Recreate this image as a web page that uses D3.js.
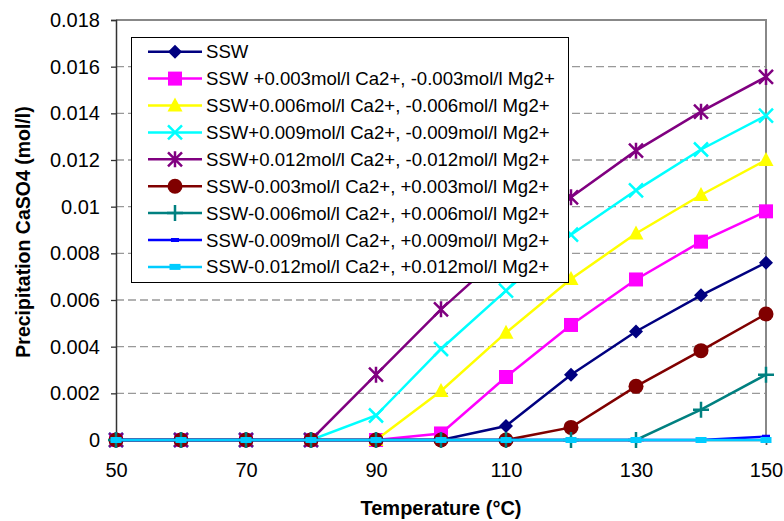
<!DOCTYPE html>
<html>
<head>
<meta charset="utf-8">
<script src="https://cdn.jsdelivr.net/npm/d3@7"></script>
<style>
  html, body { margin: 0; padding: 0; background: #fff; }
  svg { display: block; font-family: Arial, "Liberation Sans", sans-serif; }
</style>
</head>
<body>
<svg id="chart" width="784" height="521"></svg>
<script>
// ---- data ----
const temperatures = [50, 60, 70, 80, 90, 100, 110, 120, 130, 140, 150];
const seriesNames = [
  "SSW",
  "SSW +0.003mol/l Ca2+, -0.003mol/l Mg2+",
  "SSW+0.006mol/l Ca2+, -0.006mol/l Mg2+",
  "SSW+0.009mol/l Ca2+, -0.009mol/l Mg2+",
  "SSW+0.012mol/l Ca2+, -0.012mol/l Mg2+",
  "SSW-0.003mol/l Ca2+, +0.003mol/l Mg2+",
  "SSW-0.006mol/l Ca2+, +0.006mol/l Mg2+",
  "SSW-0.009mol/l Ca2+, +0.009mol/l Mg2+",
  "SSW-0.012mol/l Ca2+, +0.012mol/l Mg2+"
];
const ssw      = [0, 0, 0, 0, 0, 0, 0.0006, 0.0028, 0.00465, 0.0062, 0.0076];
const plus003  = [0, 0, 0, 0, 0, 0.00028, 0.0027, 0.00493, 0.00688, 0.0085, 0.0098];
const plus006  = [0, 0, 0, 0, 0, 0.0021, 0.0046, 0.0069, 0.00885, 0.0105, 0.012];
const plus009  = [0, 0, 0, 0, 0.00105, 0.0039, 0.0064, 0.0088, 0.0107, 0.01245, 0.0139];
const plus012  = [0, 0, 0, 0, 0.0028, 0.0056, 0.0081, 0.0104, 0.0124, 0.01407, 0.01556];
const minus003 = [0, 0, 0, 0, 0, 0, 0, 0.00054, 0.0023, 0.00383, 0.0054];
const minus006 = [0, 0, 0, 0, 0, 0, 0, 0, 0, 0.0013, 0.0028];
const minus009 = [0, 0, 0, 0, 0, 0, 0, 0, 0, 0, 0.00014];
const minus012 = [0, 0, 0, 0, 0, 0, 0, 0, 0, 0, 0];
const seriesValues = [ssw, plus003, plus006, plus009, plus012, minus003, minus006, minus009, minus012];
const seriesColors = ["#000080", "#FF00FF", "#FFFF00", "#00FFFF", "#800080", "#800000", "#008080", "#0000FF", "#00CCFF"];
const seriesMarkers = ["diamond", "square", "triangle", "x", "star", "circle", "plus", "dash", "bar"];
const yTicks = [0, 0.002, 0.004, 0.006, 0.008, 0.01, 0.012, 0.014, 0.016, 0.018];
const yTickLabels = ["0", "0.002", "0.004", "0.006", "0.008", "0.01", "0.012", "0.014", "0.016", "0.018"];
const xTicks = [50, 70, 90, 110, 130, 150];
const xTitle = "Temperature (°C)";
const yTitle = "Precipitation CaSO4 (mol/l)";

// ---- layout ----
const svg = d3.select("#chart");
const x = d3.scaleLinear().domain([50, 150]).range([116, 766]);
const y = d3.scaleLinear().domain([0, 0.018]).range([440, 20]);

// gridlines
svg.append("g").selectAll("line")
  .data(yTicks.filter(v => v > 0 && v < 0.018))
  .join("line")
  .attr("x1", x(50)).attr("x2", x(150))
  .attr("y1", d => y(d)).attr("y2", d => y(d))
  .attr("stroke", "#999").attr("stroke-width", 1.3)
  .attr("stroke-dasharray", "8,4");

// plot border top/right
svg.append("path")
  .attr("d", `M${x(50)},${y(0.018)}H${x(150)}V${y(0)}`)
  .attr("fill", "none").attr("stroke", "#888").attr("stroke-width", 2);

// y axis
const yAxis = d3.axisLeft(y).tickValues(yTicks)
  .tickFormat((d, i) => yTickLabels[i]).tickSize(5).tickPadding(11);
const yg = svg.append("g").attr("transform", `translate(${x(50)},0)`).call(yAxis);
yg.select(".domain").attr("stroke", "#333").attr("stroke-width", 1.5);
yg.selectAll(".tick line").attr("stroke", "#333").attr("stroke-width", 1.3);
yg.selectAll("text").attr("font-size", 20).attr("fill", "#000")
  .attr("font-family", "Arial, 'Liberation Sans', sans-serif");

// x axis
const xAxis = d3.axisBottom(x).tickValues(xTicks).tickFormat(d3.format("d"))
  .tickSize(5).tickPadding(18);
const xg = svg.append("g").attr("transform", `translate(0,${y(0)})`).call(xAxis);
xg.select(".domain").attr("stroke", "#555").attr("stroke-width", 1.5);
xg.selectAll(".tick line").attr("stroke", "#555").attr("stroke-width", 1.3);
xg.selectAll("text").attr("font-size", 20).attr("fill", "#000")
  .attr("font-family", "Arial, 'Liberation Sans', sans-serif");

// axis titles
svg.append("text").text(xTitle)
  .attr("x", 441).attr("y", 515).attr("text-anchor", "middle")
  .attr("font-size", 20).attr("font-weight", "bold").attr("fill", "#000");
svg.append("text").text(yTitle)
  .attr("transform", "translate(30,232) rotate(-90)")
  .attr("text-anchor", "middle")
  .attr("font-size", 19.5).attr("font-weight", "bold").attr("fill", "#000");

// marker drawing
function drawMarker(g, type, color) {
  switch (type) {
    case "diamond":
      g.append("path").attr("d", "M0,-7L7,0L0,7L-7,0Z").attr("fill", color);
      break;
    case "square":
      g.append("rect").attr("x", -7).attr("y", -7).attr("width", 14).attr("height", 14).attr("fill", color);
      break;
    case "triangle":
      g.append("path").attr("d", "M0,-8L7.5,6L-7.5,6Z").attr("fill", color);
      break;
    case "x":
      g.append("path").attr("d", "M-7,-7L7,7M-7,7L7,-7").attr("stroke", color).attr("stroke-width", 2.5);
      break;
    case "star":
      g.append("path").attr("d", "M-7,-7L7,7M-7,7L7,-7M0,-8V8").attr("stroke", color).attr("stroke-width", 2.5);
      break;
    case "circle":
      g.append("circle").attr("r", 7.5).attr("fill", color);
      break;
    case "plus":
      g.append("path").attr("d", "M-8,0H8M0,-8V8").attr("stroke", color).attr("stroke-width", 2.5);
      break;
    case "dash":
      g.append("rect").attr("x", -4).attr("y", -2).attr("width", 8).attr("height", 4).attr("fill", color);
      break;
    case "bar":
      g.append("rect").attr("x", -5.5).attr("y", -3).attr("width", 11).attr("height", 6).attr("fill", color);
      break;
  }
}

// series
const line = d3.line().x((d, i) => x(temperatures[i])).y(d => y(d));
seriesValues.forEach((vals, si) => {
  const g = svg.append("g");
  g.append("path").datum(vals).attr("d", line)
    .attr("fill", "none").attr("stroke", seriesColors[si]).attr("stroke-width", 2.5);
  vals.forEach((v, i) => {
    const mg = g.append("g").attr("transform", `translate(${x(temperatures[i])},${y(v)})`);
    drawMarker(mg, seriesMarkers[si], seriesColors[si]);
  });
});

// legend
const legend = svg.append("g");
legend.append("rect").attr("x", 131.5).attr("y", 37.5).attr("width", 437).attr("height", 245)
  .attr("fill", "#fff").attr("stroke", "#000").attr("stroke-width", 1);
seriesNames.forEach((name, i) => {
  const cy = 51.7 + i * 26.9;
  const lg = legend.append("g");
  lg.append("line").attr("x1", 148).attr("x2", 202).attr("y1", cy).attr("y2", cy)
    .attr("stroke", seriesColors[i]).attr("stroke-width", 2.5);
  const mg = lg.append("g").attr("transform", `translate(175,${cy})`);
  drawMarker(mg, seriesMarkers[i], seriesColors[i]);
  lg.append("text").text(name).attr("x", 206).attr("y", cy + 6.5)
    .attr("font-size", 18.6).attr("fill", "#000");
});
</script>
</body>
</html>
